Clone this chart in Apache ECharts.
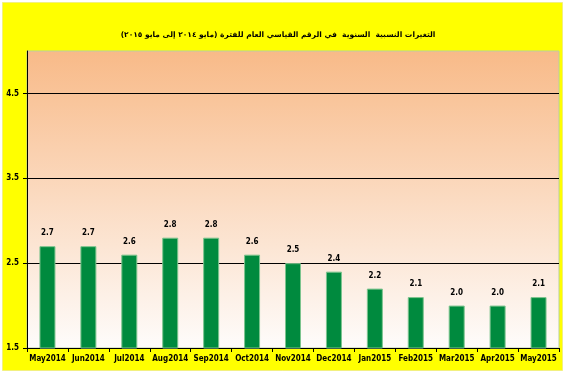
<!DOCTYPE html>
<html>
<head>
<meta charset="utf-8">
<script src="https://cdn.jsdelivr.net/npm/echarts@6/dist/echarts.min.js"></script>
<style>
    html, body { margin: 0; padding: 0; background: #fff; }
    #chart { width: 568px; height: 377px; }
</style>
</head>
<body>
<div id="chart"></div>
<script>
    // data
    const months = ['May2014', 'Jun2014', 'Jul2014', 'Aug2014', 'Sep2014', 'Oct2014', 'Nov2014',
        'Dec2014', 'Jan2015', 'Feb2015', 'Mar2015', 'Apr2015', 'May2015'];
    const rates = [2.7, 2.7, 2.6, 2.8, 2.8, 2.6, 2.5, 2.4, 2.2, 2.1, 2.0, 2.0, 2.1];
    const yTicks = [1.5, 2.5, 3.5, 4.5];
    const titleText = 'التغيرات النسبية  السنوية  في الرقم القياسي العام للفترة (مايو ٢٠١٤ إلى مايو ٢٠١٥)';

    const myChart = echarts.init(document.getElementById('chart'));
    const option = {
        backgroundColor: '#ffffff',
        animation: false,
        graphic: [{
            type: 'rect',
            z: -10,
            silent: true,
            shape: { x: 2.5, y: 2.5, width: 560, height: 368 },
            style: { fill: '#ffff00', stroke: '#f2f080', lineWidth: 1 }
        }],
        title: {
            text: titleText,
            left: 273,
            textAlign: 'center',
            top: 26,
            textStyle: {
                fontFamily: 'DejaVu Sans',
                fontWeight: 'bold',
                fontSize: 7.5,
                color: '#000'
            }
        },
        grid: {
            left: 27,
            right: 9,
            top: 51,
            bottom: 29,
            show: true,
            borderColor: '#b9cf9e',
            borderWidth: 1,
            backgroundColor: new echarts.graphic.LinearGradient(0, 0, 0, 1, [
                { offset: 0, color: '#f8ba88' },
                { offset: 1, color: '#fefcfb' }
            ])
        },
        xAxis: {
            type: 'category',
            data: months,
            axisLine: { lineStyle: { color: '#000', width: 1 } },
            axisTick: { show: true, length: 4, lineStyle: { color: '#000' } },
            axisLabel: {
                interval: 0,
                margin: 7,
                fontFamily: 'Liberation Sans Narrow, DejaVu Sans Condensed, sans-serif',
                fontWeight: 'bold',
                fontSize: 8,
                color: '#000'
            }
        },
        yAxis: {
            type: 'value',
            min: 1.5,
            max: 5,
            interval: 0.5,
            axisLine: { show: true, lineStyle: { color: '#000', width: 1 } },
            axisTick: { show: true, length: 4, customValues: yTicks, lineStyle: { color: '#000' } },
            axisLabel: {
                customValues: yTicks,
                margin: 8,
                fontFamily: 'Liberation Sans Narrow, DejaVu Sans Condensed, sans-serif',
                fontWeight: 'bold',
                fontSize: 8,
                color: '#000',
                formatter: function (v) { return v.toFixed(1); }
            },
            splitLine: { show: true, lineStyle: { color: '#000', width: 1 } }
        },
        series: [{
            type: 'bar',
            data: rates,
            barWidth: 16,
            itemStyle: {
                color: '#008a3e',
                borderColor: '#7cc48e',
                borderWidth: 1
            },
            label: {
                show: true,
                position: 'top',
                distance: 9,
                fontFamily: 'Liberation Sans Narrow, DejaVu Sans Condensed, sans-serif',
                fontWeight: 'bold',
                fontSize: 8,
                color: '#000',
                formatter: function (p) { return p.value.toFixed(1); }
            }
        }]
    };
    myChart.setOption(option);
</script>
</body>
</html>
